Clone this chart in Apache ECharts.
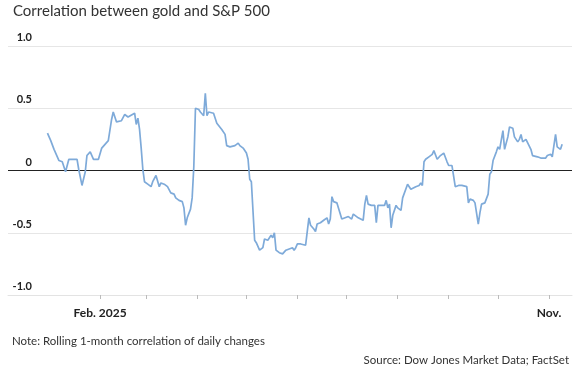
<!DOCTYPE html>
<html>
<head>
<meta charset="utf-8">
<script src="https://cdn.jsdelivr.net/npm/echarts@6/dist/echarts.min.js"></script>
<style>
html,body{margin:0;padding:0;background:#fff;}
#chart{width:577px;height:366px;}
</style>
</head>
<body>
<div id="chart"></div>
<script>
var titleText = 'Correlation between gold and S&P 500';
var noteText = 'Note: Rolling 1-month correlation of daily changes';
var sourceText = 'Source: Dow Jones Market Data; FactSet';

var dates = [
'2024-12-31','2025-01-02','2025-01-03','2025-01-04','2025-01-05','2025-01-07','2025-01-09','2025-01-10','2025-01-11','2025-01-13','2025-01-14','2025-01-18','2025-01-19','2025-01-21','2025-01-23','2025-01-24','2025-01-26','2025-01-28','2025-01-31',
'2025-02-02','2025-02-04','2025-02-06','2025-02-08','2025-02-09','2025-02-10','2025-02-11','2025-02-14','2025-02-16','2025-02-18','2025-02-19','2025-02-22','2025-02-23','2025-02-24','2025-02-25','2025-02-26','2025-02-27','2025-02-28',
'2025-03-01','2025-03-02','2025-03-04','2025-03-05','2025-03-07','2025-03-08','2025-03-09','2025-03-10','2025-03-12','2025-03-14','2025-03-16','2025-03-18','2025-03-19','2025-03-21','2025-03-23','2025-03-24','2025-03-25','2025-03-26','2025-03-28','2025-03-29','2025-03-30','2025-03-31',
'2025-04-02','2025-04-03','2025-04-05','2025-04-06','2025-04-07','2025-04-08','2025-04-11','2025-04-13','2025-04-14','2025-04-16','2025-04-18','2025-04-19','2025-04-21','2025-04-22','2025-04-24','2025-04-26','2025-04-27','2025-04-29',
'2025-05-01','2025-05-02','2025-05-03','2025-05-04','2025-05-05','2025-05-06','2025-05-07','2025-05-08','2025-05-09','2025-05-11','2025-05-12','2025-05-14','2025-05-15','2025-05-16','2025-05-17','2025-05-18','2025-05-19','2025-05-21','2025-05-23','2025-05-25','2025-05-27','2025-05-29','2025-05-30','2025-05-31',
'2025-06-01','2025-06-03','2025-06-06','2025-06-08','2025-06-09','2025-06-11','2025-06-12','2025-06-13','2025-06-15','2025-06-17','2025-06-19','2025-06-20','2025-06-21','2025-06-22','2025-06-23','2025-06-25','2025-06-28','2025-06-30',
'2025-07-02','2025-07-04','2025-07-05','2025-07-06','2025-07-08','2025-07-11','2025-07-12','2025-07-13','2025-07-14','2025-07-16','2025-07-18','2025-07-19','2025-07-20','2025-07-22','2025-07-24','2025-07-25','2025-07-26','2025-07-27','2025-07-28','2025-07-29','2025-07-31',
'2025-08-01','2025-08-03','2025-08-04','2025-08-07','2025-08-09','2025-08-12','2025-08-14','2025-08-15','2025-08-16','2025-08-17','2025-08-18','2025-08-20','2025-08-22','2025-08-23','2025-08-25','2025-08-27','2025-08-29','2025-08-31',
'2025-09-01','2025-09-03','2025-09-04','2025-09-05','2025-09-07','2025-09-09','2025-09-10','2025-09-12','2025-09-13','2025-09-14','2025-09-16','2025-09-17','2025-09-19','2025-09-20','2025-09-21','2025-09-23','2025-09-24','2025-09-25','2025-09-26','2025-09-27','2025-09-28','2025-09-30',
'2025-10-01','2025-10-02','2025-10-04','2025-10-05','2025-10-07','2025-10-08','2025-10-10','2025-10-11','2025-10-13','2025-10-14','2025-10-15','2025-10-16','2025-10-18','2025-10-19','2025-10-21','2025-10-22','2025-10-25','2025-10-27','2025-10-30','2025-10-31',
'2025-11-02','2025-11-03','2025-11-05','2025-11-06','2025-11-08','2025-11-09'
];

var correlation = [
0.30,0.24,0.23,0.17,0.16,0.08,0.07,0.07,-0.01,0.09,0.08,0.09,0.01,-0.12,-0.01,0.12,0.15,0.09,0.09,
0.18,0.21,0.24,0.41,0.47,0.46,0.39,0.40,0.45,0.43,0.44,0.46,0.37,0.42,0.33,0.18,0.01,-0.09,
-0.08,-0.11,-0.13,-0.09,-0.04,-0.05,-0.13,-0.10,-0.11,-0.13,-0.18,-0.19,-0.22,-0.24,-0.25,-0.30,-0.44,-0.38,-0.31,-0.22,0.03,0.50,
0.49,0.47,0.44,0.62,0.44,0.47,0.46,0.38,0.37,0.33,0.29,0.20,0.19,0.20,0.20,0.22,0.20,0.18,
0.14,0.09,-0.07,-0.09,-0.10,-0.56,-0.58,-0.59,-0.64,-0.62,-0.55,-0.56,-0.56,-0.52,-0.54,-0.50,-0.64,-0.66,-0.67,-0.64,-0.63,-0.62,-0.64,-0.62,
-0.59,-0.59,-0.60,-0.38,-0.44,-0.47,-0.49,-0.43,-0.42,-0.40,-0.38,-0.43,-0.39,-0.21,-0.25,-0.26,-0.39,-0.38,
-0.37,-0.39,-0.35,-0.36,-0.38,-0.40,-0.27,-0.20,-0.27,-0.28,-0.28,-0.42,-0.28,-0.28,-0.28,-0.24,-0.30,-0.27,-0.46,-0.36,-0.28,
-0.30,-0.32,-0.22,-0.11,-0.15,-0.13,-0.12,-0.10,-0.12,0.07,0.09,0.11,0.13,0.16,0.09,0.12,0.14,0.07,
0.04,0.04,0.03,-0.13,-0.12,-0.12,-0.12,-0.13,-0.26,-0.23,-0.24,-0.26,-0.43,-0.34,-0.27,-0.26,-0.25,-0.19,-0.03,-0.01,0.08,0.15,
0.19,0.17,0.32,0.17,0.27,0.35,0.34,0.27,0.23,0.25,0.29,0.23,0.25,0.24,0.17,0.12,0.11,0.10,0.10,0.12,
0.13,0.11,0.29,0.19,0.17,0.21
];

var monthTicks = ['2025-02-01','2025-03-01','2025-04-01','2025-05-01','2025-06-01','2025-07-01','2025-08-01','2025-09-01','2025-10-01','2025-11-01'];
var labelTicks = ['2025-02-01','2025-11-01'];
var labelTexts = ['Feb. 2025','Nov.'];
var yTickLabels = ['-1.0','-0.5','0','0.5','1.0'];
var xMin = '2024-12-07';
var xMax = '2025-11-15';

function ts(s){ var p = s.split('-'); return Date.UTC(+p[0], +p[1]-1, +p[2]); }

var seriesData = dates.map(function(d, i){ return [ts(d), correlation[i]]; });
var tickVals = monthTicks.map(ts);
var labelVals = labelTicks.map(ts);

var chart = echarts.init(document.getElementById('chart'), null, {renderer:'canvas'});
chart.setOption({
  animation: false,
  backgroundColor: '#fff',
  textStyle: { fontFamily: 'Lato, sans-serif' },
  title: [
    { text: titleText, left: 8, top: -1, textStyle: { fontFamily: 'Lato', fontSize: 15, fontWeight: 'normal', color: '#333' } },
    { text: noteText, left: 7, top: 330, textStyle: { fontFamily: 'Lato', fontSize: 11.5, fontWeight: 'normal', color: '#333' } },
    { text: sourceText, right: 3, top: 349, textStyle: { fontFamily: 'Lato', fontSize: 11.5, fontWeight: 'normal', color: '#333' } }
  ],
  grid: { left: 8, right: 5, top: 46, bottom: 71, containLabel: false },
  xAxis: {
    type: 'value',
    min: ts(xMin),
    max: ts(xMax),
    axisLine: { show: true, onZero: false, lineStyle: { color: '#e3e3e3', width: 1 } },
    axisTick: { show: true, customValues: tickVals, length: 4, lineStyle: { color: '#bbb' } },
    axisLabel: {
      customValues: labelVals,
      margin: 12,
      color: '#222',
      fontFamily: 'Lato',
      fontSize: 12,
      fontWeight: 'bold',
      formatter: function (v) {
        var i = labelVals.indexOf(v);
        return i >= 0 ? labelTexts[i] : '';
      }
    },
    splitLine: { show: false }
  },
  yAxis: {
    type: 'value',
    min: -1,
    max: 1,
    interval: 0.5,
    axisLine: { show: false },
    axisTick: { show: false },
    axisLabel: {
      inside: true,
      margin: 24,
      align: 'right',
      verticalAlign: 'bottom',
      padding: [0, 0, 3, 0],
      color: '#222',
      fontFamily: 'Lato',
      fontSize: 11,
      fontWeight: 'bold',
      formatter: function (v) {
        var idx = Math.round((v + 1) / 0.5);
        return yTickLabels[idx];
      }
    },
    splitLine: { show: true, lineStyle: { color: ['#e6e6e6', '#e6e6e6', '#222', '#e6e6e6', '#e6e6e6'], width: 1 } }
  },
  series: [{
    type: 'line',
    data: seriesData,
    showSymbol: false,
    symbol: 'none',
    lineStyle: { color: '#7eaad9', width: 1.7 },
    z: 3
  }]
});
</script>
</body>
</html>
